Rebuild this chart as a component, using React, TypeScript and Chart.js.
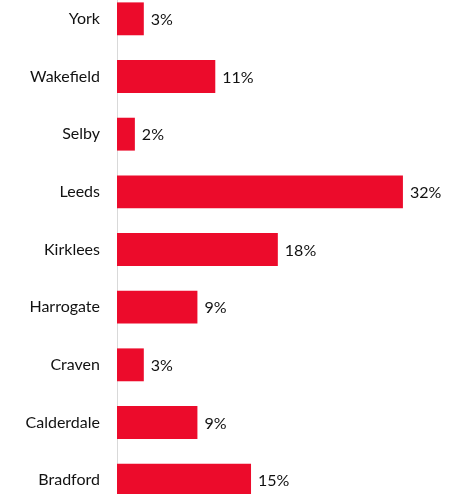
import React, { useEffect, useRef } from "react";
import { Chart, registerables } from "chart.js";

Chart.register(...registerables);

const categories = ["York", "Wakefield", "Selby", "Leeds", "Kirklees", "Harrogate", "Craven", "Calderdale", "Bradford"];
const values = [3, 11, 2, 32, 18, 9, 3, 9, 15];

const FONT = "Lato, 'Open Sans', sans-serif";

const valueLabels = {
  id: "valueLabels",
  afterDatasetsDraw(chart: any) {
    const ctx = chart.ctx;
    const meta = chart.getDatasetMeta(0);
    ctx.save();
    ctx.font = `16px ${FONT}`;
    ctx.fillStyle = "#111";
    ctx.textAlign = "left";
    ctx.textBaseline = "middle";
    meta.data.forEach((bar: any, i: number) => {
      ctx.fillText(values[i] + "%", bar.x + 7, bar.y + 1);
    });
    ctx.restore();
  },
};

export default function App() {
  const ref = useRef<HTMLCanvasElement>(null);
  useEffect(() => {
    const chart = new Chart(ref.current!, {
      type: "bar",
      data: {
        labels: categories,
        datasets: [
          {
            data: values,
            backgroundColor: "#EC0B2B",
            borderWidth: 0,
            barPercentage: 0.57,
            categoryPercentage: 1,
          },
        ],
      },
      options: {
        indexAxis: "y",
        animation: false,
        responsive: false,
        maintainAspectRatio: false,
        layout: { padding: 0 },
        plugins: { legend: { display: false }, tooltip: { enabled: false } },
        scales: {
          x: { display: false, min: 0, max: 38.5 },
          y: {
            offset: true,
            grid: { display: false, drawTicks: true, tickLength: 17 },
            border: { display: true, color: "#d9d9d9", width: 1 },
            ticks: { padding: 0, color: "#111", font: { family: FONT, size: 16 } },
            afterFit(scale: any) {
              scale.width = 117;
              scale.paddingTop = 0;
              scale.paddingBottom = 0;
            },
          },
        },
      },
      plugins: [valueLabels],
    });
    return () => chart.destroy();
  }, []);
  return (
    <div style={{ position: "absolute", left: 0, top: 0, width: 461, height: 494, overflow: "hidden", background: "#fff" }}>
      <canvas ref={ref} width={461} height={519} style={{ position: "absolute", left: 0, top: -10, width: 461, height: 519 }} />
    </div>
  );
}
